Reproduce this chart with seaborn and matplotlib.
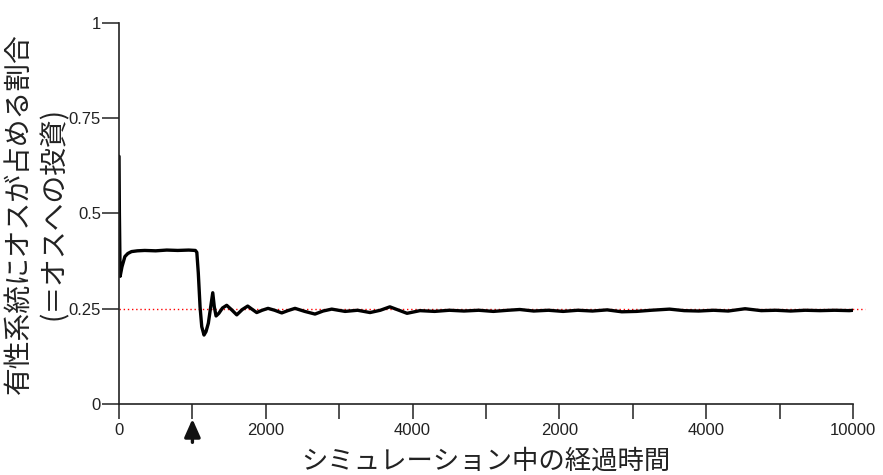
import matplotlib
matplotlib.use("Agg")
import matplotlib.pyplot as plt
import seaborn as sns
import pandas as pd

# Elapsed simulation time and share of investment in males within sexual lineages
time = [0, 5, 15, 40, 80, 120, 170, 250, 350, 500, 650, 800, 950, 1040,
        1060, 1080, 1104, 1127, 1158, 1185, 1217, 1249, 1277, 1298, 1322,
        1360, 1410, 1467, 1530, 1604, 1680, 1753, 1810, 1876, 1950, 2030,
        2120, 2217, 2300, 2398, 2530, 2670, 2780, 2898, 3080, 3250, 3420,
        3560, 3690, 3800, 3924, 4100, 4300, 4500, 4700, 4900, 5100, 5300,
        5460, 5650, 5850, 6050, 6250, 6450, 6650, 6850, 7050, 7250, 7500,
        7700, 7900, 8100, 8300, 8530, 8750, 8950, 9150, 9350, 9550, 9750,
        9950, 10000]
male_share = [0.65, 0.50, 0.335, 0.36, 0.387, 0.395, 0.400, 0.402, 0.403,
              0.402, 0.404, 0.403, 0.404, 0.403,
              0.398, 0.344, 0.255, 0.203, 0.181, 0.190, 0.212, 0.255, 0.292,
              0.255, 0.231,
              0.238, 0.252, 0.259, 0.248, 0.234, 0.248, 0.257, 0.249, 0.240,
              0.246, 0.251,
              0.246, 0.239, 0.245, 0.251, 0.243, 0.236, 0.244, 0.249, 0.243,
              0.246, 0.240,
              0.246, 0.255, 0.247, 0.238, 0.245, 0.243, 0.246, 0.244, 0.246,
              0.243, 0.246,
              0.248, 0.244, 0.246, 0.243, 0.246, 0.244, 0.247, 0.242, 0.243,
              0.246, 0.249,
              0.245, 0.244, 0.246, 0.244, 0.250, 0.245, 0.246, 0.244, 0.246,
              0.245, 0.246,
              0.245, 0.246]

reference_level = 0.25
arrow_time = 1000

x_ticks = [0, 1000, 2000, 3000, 4000, 5000, 6000, 7000, 8000, 9000, 10000]
x_tick_labels = ["0", "", "2000", "", "4000", "", "2000", "", "4000", "", "10000"]
y_ticks = [0, 0.25, 0.5, 0.75, 1]
y_tick_labels = ["0", "0.25", "0.5", "0.75", "1"]

x_label = "シミュレーション中の経過時間"
y_label = "有性系統にオスが占める割合\n(＝オスへの投資)"

df = pd.DataFrame({"time": time, "share": male_share})

sns.set_theme(style="white")
plt.rcParams["font.family"] = ["Liberation Sans", "DejaVu Sans"]

fig = plt.figure(figsize=(8.83, 4.75), dpi=100)
ax = fig.add_axes([0.1348, 0.1495, 0.8312, 0.8021])

ax.plot([0, 10160], [reference_level, reference_level], color="red",
        linestyle=(0, (1, 2)), linewidth=1.0, clip_on=False, zorder=1)
sns.lineplot(data=df, x="time", y="share", ax=ax, color="black",
             linewidth=2.4, zorder=2)

ax.set_xlim(0, 10000)
ax.set_ylim(0, 1)
ax.set_xticks(x_ticks)
ax.set_xticklabels(x_tick_labels)
ax.set_yticks(y_ticks)
ax.set_yticklabels(y_tick_labels)

for side in ("top", "right"):
    ax.spines[side].set_visible(False)
for side in ("left", "bottom"):
    ax.spines[side].set_color("#222222")
    ax.spines[side].set_linewidth(1.2)

ax.tick_params(axis="x", direction="out", length=11, width=1.1,
               color="#222222", pad=3, labelsize=12, labelcolor="#222222",
               bottom=True)
ax.tick_params(axis="y", direction="out", length=12, width=1.1,
               color="#222222", pad=1, labelsize=12, labelcolor="#222222",
               left=True)

ax.set_xlabel(x_label, family=["Noto Sans CJK JP", "DejaVu Sans"],
              fontsize=19, color="#222222", labelpad=7)
ax.set_ylabel(y_label, family=["Noto Sans CJK JP", "DejaVu Sans"],
              fontsize=20, color="#222222", linespacing=1.25)
ax.yaxis.set_label_coords(-0.068, 0.5)

ax.annotate("", xy=(arrow_time, -0.032), xytext=(arrow_time, -0.108),
            xycoords="data", textcoords="data", annotation_clip=False,
            arrowprops=dict(arrowstyle="-|>,head_width=0.4,head_length=0.9",
                            color="#111111", lw=2.4))

fig.savefig("out.png", dpi=100)
